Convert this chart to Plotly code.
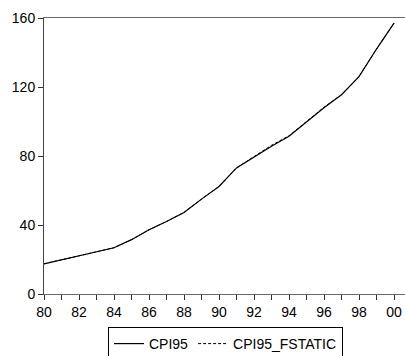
import plotly.graph_objects as go

years = list(range(1980, 2001))
cpi95 = [17.5, 19.8, 22.2, 24.5, 26.8, 31.5, 37.2, 42.0, 47.3, 55.0, 62.3,
         73.1, 79.5, 85.7, 91.5, 99.8, 108.0, 115.5, 126.0, 142.0, 157.0]
cpi95_fstatic = [17.5, 19.8, 22.2, 24.5, 26.8, 31.5, 37.2, 42.0, 47.3, 55.0, 62.3,
                 73.1, 79.9, 86.2, 91.7, 99.8, 108.3, 115.5, 126.0, 142.0, 157.0]
x_tick_vals = list(range(1980, 2001, 2))
x_tick_text = ["80", "82", "84", "86", "88", "90", "92", "94", "96", "98", "00"]
y_tick_vals = [0, 40, 80, 120, 160]

FONT = "Liberation Sans, Arial, sans-serif"

fig = go.Figure()
fig.add_trace(go.Scatter(x=years, y=cpi95, mode="lines", name="CPI95",
                         line=dict(color="black", width=1.2)))
fig.add_trace(go.Scatter(x=years, y=cpi95_fstatic, mode="lines", name="CPI95_FSTATIC",
                         line=dict(color="black", width=1, dash="3px,2px")))

fig.update_layout(
    width=405, height=356,
    margin=dict(l=44, r=0, t=18, b=62),
    paper_bgcolor="white", plot_bgcolor="white",
    font=dict(family=FONT, size=14, color="black"),
    showlegend=True,
    legend=dict(orientation="h", xref="container", yref="container",
                x=108/405, y=1-327/356, xanchor="left", yanchor="top",
                bordercolor="black", borderwidth=1, bgcolor="white",
                font=dict(family=FONT, size=14, color="black")),
)
fig.update_xaxes(range=[1980, 1980 + 361/17.5], tickvals=x_tick_vals, ticktext=x_tick_text,
                 ticks="outside", ticklen=5, tickcolor="#333", showgrid=False, zeroline=False,
                 showline=True, linecolor="#666", linewidth=1, mirror=True,
                 minor=dict(dtick=1, ticks="outside", ticklen=5, tickcolor="#333", showgrid=False),
                 tickfont=dict(family=FONT, size=14, color="black"))
fig.update_yaxes(range=[0, 160], tickvals=y_tick_vals, ticks="outside", ticklen=5,
                 tickcolor="#333", showgrid=False, zeroline=False,
                 showline=True, linecolor="#444", linewidth=1,
                 tickfont=dict(family=FONT, size=14, color="black"))

fig.write_html("out.html")
